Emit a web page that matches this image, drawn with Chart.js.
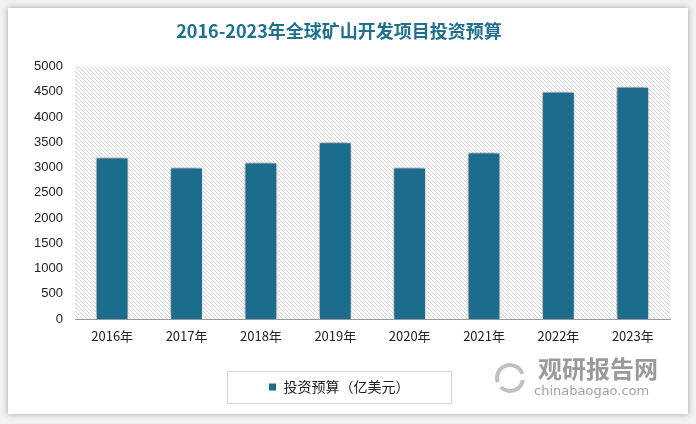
<!DOCTYPE html>
<html>
<head>
<meta charset="utf-8">
<script src="https://cdn.jsdelivr.net/npm/chart.js@4/dist/chart.umd.min.js"></script>
<style>
  body { margin:0; background:#f2f2f2; width:696px; height:424px; overflow:hidden; }
  .card { position:absolute; left:8px; top:8px; width:680px; height:406px; background:#fff; box-shadow:0 0 6px rgba(0,0,0,0.35); }
</style>
</head>
<body>
<div class="card"><canvas id="chartContainer" width="680" height="406"></canvas></div>
<script>
var years = ['2016年','2017年','2018年','2019年','2020年','2021年','2022年','2023年']
var budget = [3200,3000,3100,3500,3000,3300,4500,4600]
var seriesName = '投资预算（亿美元）'
var titleText = '2016-2023年全球矿山开发项目投资预算'

// hatched background for plot area
var pc = document.createElement('canvas')
pc.width = 4; pc.height = 4
var pctx = pc.getContext('2d')
pctx.fillStyle = '#fff'
pctx.fillRect(0,0,4,4)
pctx.fillStyle = '#d4d4d4'
for (var i=0;i<4;i++){ pctx.fillRect(i,i,1,1) }

var bgPlugin = {
  id:'bg',
  beforeDraw: function(chart){
    var a = chart.chartArea, ctx = chart.ctx
    ctx.save()
    ctx.fillStyle = ctx.createPattern(pc,'repeat')
    ctx.fillRect(a.left, a.top, a.right - a.left, a.bottom - a.top)
    ctx.restore()
  },
  beforeDatasetsDraw: function(chart){
    var ctx = chart.ctx
    ctx.save()
    ctx.shadowColor = 'rgba(0,0,0,0.45)'
    ctx.shadowBlur = 8
    ctx.shadowOffsetX = -2
    ctx.shadowOffsetY = -2
  },
  afterDatasetsDraw: function(chart){ chart.ctx.restore() },
  afterDraw: function(chart){
    var ctx = chart.ctx, lg = chart.legend
    ctx.save()
    var cx = (lg.left + lg.right)/2, cy = (lg.top + lg.bottom)/2
    ctx.strokeStyle = '#d9d9d9'
    ctx.lineWidth = 1
    ctx.strokeRect(Math.round(cx - 112)+0.5, Math.round(cy - 16)+0.5, 224, 32)
    // watermark
    ctx.fillStyle = 'rgba(120,120,120,0.75)'
    ctx.font = 'bold 24px "Noto Sans CJK SC"'
    ctx.textBaseline = 'middle'
    ctx.fillText('观研报告网', 530, 361)
    ctx.fillStyle = 'rgba(130,130,130,0.75)'
    ctx.font = '13px "DejaVu Sans"'
    ctx.fillText('chinabaogao.com', 526, 384)
    ctx.strokeStyle = 'rgba(150,150,150,0.6)'
    ctx.lineWidth = 4
    ctx.beginPath(); ctx.arc(502, 370, 13, Math.PI*0.9, Math.PI*1.9); ctx.stroke()
    ctx.beginPath(); ctx.arc(502, 370, 13, Math.PI*0.05, Math.PI*0.75); ctx.stroke()
    ctx.restore()
  }
}

var chart = new Chart(document.getElementById('chartContainer'),{
  type:'bar',
  data:{
    labels: years,
    datasets:[{
      label: seriesName,
      data: budget,
      backgroundColor:'#1c6c8e',
      borderColor:'#ffffff',
      borderWidth:1,
      categoryPercentage:1,
      barPercentage:0.44
    }]
  },
  options:{
    responsive:false,
    animation:false,
    layout:{ padding:{ left:0, right:18, bottom:10 } },
    plugins:{
      title:{
        display:true,
        text:titleText,
        color:'#1f6f8f',
        font:{ family:'"Noto Sans CJK SC"', size:18, weight:'bold' },
        padding:{ top:12, bottom:25 }
      },
      legend:{
        position:'bottom',
        labels:{
          boxWidth:8, boxHeight:8,
          color:'#222',
          font:{ family:'"Noto Sans CJK SC"', size:14 },
          padding:10
        }
      },
      tooltip:{ enabled:false }
    },
    scales:{
      x:{
        grid:{ display:false, drawTicks:false },
        border:{ display:true, color:'#999' },
        ticks:{ color:'#222', font:{ family:'"Noto Sans CJK SC"', size:13 }, padding:9, maxRotation:0 },
        afterFit: function(s){ s.height = 51 }
      },
      y:{
        min:0, max:5000,
        grid:{ display:false, drawTicks:false },
        border:{ display:false },
        ticks:{ stepSize:500, color:'#222', font:{ family:'"Liberation Sans"', size:13 }, padding:12,
          callback: function(v){ return String(v) } },
        afterFit: function(s){ s.width = 67 }
      }
    }
  },
  plugins:[bgPlugin]
})
</script>
</body>
</html>
